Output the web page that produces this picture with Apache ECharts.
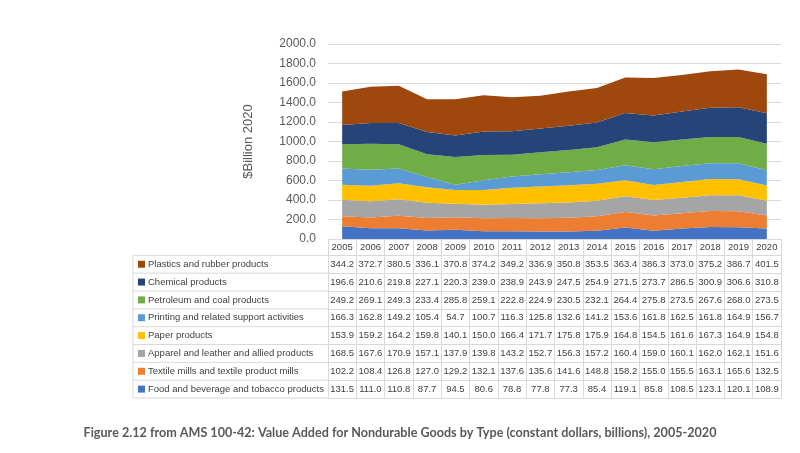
<!DOCTYPE html>
<html><head><meta charset="utf-8">
<script src="https://cdn.jsdelivr.net/npm/echarts@6/dist/echarts.min.js"></script>
<style>html,body{margin:0;padding:0;background:#fff}#c{width:800px;height:453px}</style>
</head><body><div id="c"></div>
<script>
const years = ['2005','2006','2007','2008','2009','2010','2011','2012','2013','2014','2015','2016','2017','2018','2019','2020'];
const food = [131.5,111.0,110.8,87.7,94.5,80.6,78.8,77.8,77.3,85.4,119.1,85.8,108.5,123.1,120.1,108.9];
const textile = [102.2,108.4,126.8,127.0,129.2,132.1,137.6,135.6,141.6,148.8,158.2,155.0,155.5,163.1,165.6,132.5];
const apparel = [168.5,167.6,170.9,157.1,137.9,139.8,143.2,152.7,156.3,157.2,160.4,159.0,160.1,162.0,162.1,151.6];
const paper = [153.9,159.2,164.2,159.8,140.1,150.0,166.4,171.7,175.8,175.9,164.8,154.5,161.6,167.3,164.9,154.8];
const printing = [166.3,162.8,149.2,105.4,54.7,100.7,116.3,125.8,132.6,141.2,153.6,161.8,162.5,161.8,164.9,156.7];
const petroleum = [249.2,269.1,249.3,233.4,285.8,259.1,222.8,224.9,230.5,232.1,264.4,275.8,273.5,267.6,268.0,273.5];
const chemical = [196.6,210.6,219.8,227.1,220.3,239.0,238.9,243.9,247.5,254.9,271.5,273.7,286.5,300.9,306.6,310.8];
const plastics = [344.2,372.7,380.5,336.1,370.8,374.2,349.2,336.9,350.8,353.5,363.4,386.3,373.0,375.2,386.7,401.5];

const seriesNames = ['Food and beverage and tobacco products','Textile mills and textile product mills','Apparel and leather and allied products','Paper products','Printing and related support activities','Petroleum and coal products','Chemical products','Plastics and rubber products'];
const seriesData = [food,textile,apparel,paper,printing,petroleum,chemical,plastics];
const colors = ['#4472C4','#ED7D31','#A5A5A5','#FFC000','#5B9BD5','#70AD47','#264478','#9E480E'];

// layout
const GL = 328, GR = 781, GT = 44, GB = 239;
const HEAD = 16.3, ROW = 17.84;
const LINE = '#d9d9d9', TXT = '#404040';
const FONT = 'Liberation Sans';
const FS = 9.5;

// table row order: top to bottom
const tableOrder = [7,6,5,4,3,2,1,0];

const xAxes = [{
  type:'category', data: years, position:'bottom', offset:0, boundaryGap:true,
  axisLine:{show:true, lineStyle:{color:LINE, width:1}},
  axisTick:{show:true, interval:0, length:HEAD, lineStyle:{color:LINE}},
  axisLabel:{interval:0, margin:3, fontSize:FS, color:TXT, fontFamily:FONT},
  splitLine:{show:false}
}];
tableOrder.forEach((si,k)=>{
  xAxes.push({
    type:'category', data: years, position:'bottom', offset: HEAD + k*ROW, boundaryGap:true,
    axisLine:{show:true, lineStyle:{color:LINE, width:1}},
    axisTick:{show:true, interval:0, length:ROW, lineStyle:{color:LINE}},
    axisLabel:{interval:0, margin:4, fontSize:FS, color:TXT, fontFamily:FONT,
      formatter:(v,i)=>seriesData[si][i].toFixed(1)},
    splitLine:{show:false}
  });
});
xAxes.push({
  type:'category', data: years, position:'bottom', offset: HEAD + 8*ROW, boundaryGap:true,
  axisLine:{show:true, lineStyle:{color:LINE, width:1}},
  axisTick:{show:false}, axisLabel:{show:false}, splitLine:{show:false}
});

const graphics = [];
const top0 = GB + HEAD;
for (let k=0;k<=8;k++){
  graphics.push({type:'line', shape:{x1:133, y1:top0+k*ROW, x2:GL, y2:top0+k*ROW}, style:{stroke:LINE, lineWidth:1}, silent:true});
}
graphics.push({type:'line', shape:{x1:133, y1:top0, x2:133, y2:top0+8*ROW}, style:{stroke:LINE, lineWidth:1}, silent:true});
tableOrder.forEach((si,k)=>{
  const cy = top0 + k*ROW + ROW/2;
  graphics.push({type:'rect', shape:{x:138, y:cy-3.5, width:7, height:7}, style:{fill:colors[si]}, silent:true});
  graphics.push({type:'text', x:148, y:cy, style:{text:seriesNames[si], fill:TXT, font:FS+'px "'+FONT+'"', verticalAlign:'middle', align:'left'}, silent:true});
});

const chart = echarts.init(document.getElementById('c'), null, {renderer:'canvas'});
chart.setOption({
  animation:false,
  backgroundColor:'#fff',
  title:{text:'Figure 2.12 from AMS 100-42: Value Added for Nondurable Goods by Type (constant dollars, billions), 2005-2020',
    left:'center', top:421, textStyle:{fontSize:12.6, fontWeight:'bold', color:'#595959', fontFamily:'Lato'}},
  grid:{left:GL, right:800-GR, top:GT, bottom:453-GB},
  xAxis: xAxes,
  yAxis:{type:'value', min:0, max:2000, interval:200,
    name:'$Billion 2020', nameLocation:'middle', nameGap:73,
    nameTextStyle:{fontSize:13, color:'#595959', fontFamily:FONT},
    axisLine:{show:false}, axisTick:{show:false},
    axisLabel:{fontSize:12, color:'#595959', margin:12, fontFamily:FONT, formatter:v=>v.toFixed(1)},
    splitLine:{lineStyle:{color:LINE, width:1}}},
  series: seriesData.map((d,i)=>({
    name:seriesNames[i], type:'line', stack:'total', data:d, xAxisIndex:0,
    symbol:'none', lineStyle:{width:0}, areaStyle:{color:colors[i], opacity:1},
    itemStyle:{color:colors[i]}
  })),
  graphic: graphics
});
</script></body></html>
